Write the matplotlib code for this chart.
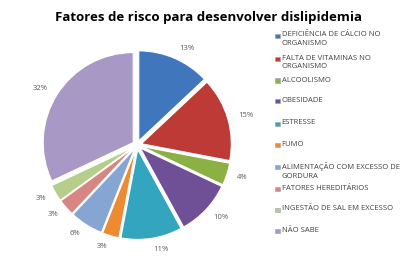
import matplotlib.pyplot as plt
from matplotlib.patches import Rectangle

categorias = [
    "DEFICIÊNCIA DE CÁLCIO NO\nORGANISMO",
    "FALTA DE VITAMINAS NO\nORGANISMO",
    "ALCOOLISMO",
    "OBESIDADE",
    "ESTRESSE",
    "FUMO",
    "ALIMENTAÇÃO COM EXCESSO DE\nGORDURA",
    "FATORES HEREDITÁRIOS",
    "INGESTÃO DE SAL EM EXCESSO",
    "NÃO SABE",
]
valores = [13, 15, 4, 10, 11, 3, 6, 3, 3, 32]
rotulos = [f"{v}%" for v in valores]
cores = ["#3F76BC", "#BE3A37", "#8BB043", "#6F4F96", "#34A5BF",
         "#EE8A2F", "#86A5D3", "#D88684", "#B5CE8A", "#A898C6"]

plt.rcParams["font.family"] = ["Open Sans", "DejaVu Sans"]

fig = plt.figure(figsize=(4.08, 2.65), dpi=100)
ax = fig.add_axes([20 / 408, 3 / 265, 234 / 408, 234 / 265])

wedges, texts = ax.pie(valores, labels=rotulos, colors=cores, startangle=90,
                       counterclock=False, explode=[0.05] * len(valores),
                       labeldistance=1.12,
                       wedgeprops=dict(edgecolor="white", linewidth=0.8),
                       textprops=dict(fontsize=5.5, color="#595959"))
ax.set_xlim(-1.3, 1.3)
ax.set_ylim(-1.3, 1.3)
ax.set_aspect("equal")

fig.text(209 / 408, 1 - 17 / 265, "Fatores de risco para desenvolver dislipidemia",
         ha="center", va="center", fontsize=9.5, fontweight="bold", color="black")

# legenda à direita
ys = [36, 59, 81, 101, 124, 145, 167, 189, 210, 231]
for cat, cor, y in zip(categorias, cores, ys):
    fig.patches.append(Rectangle((275 / 408, 1 - (y + 2) / 265), 4.5 / 408, 4.5 / 265,
                                 transform=fig.transFigure, facecolor=cor,
                                 edgecolor="#9aa0a8", linewidth=0.4))
    fig.text(281.5 / 408, 1 - (y - 4.5) / 265, cat, ha="left", va="top",
             fontsize=5.5, color="#404040", linespacing=1.35)

fig.savefig("out.png", dpi=100)
